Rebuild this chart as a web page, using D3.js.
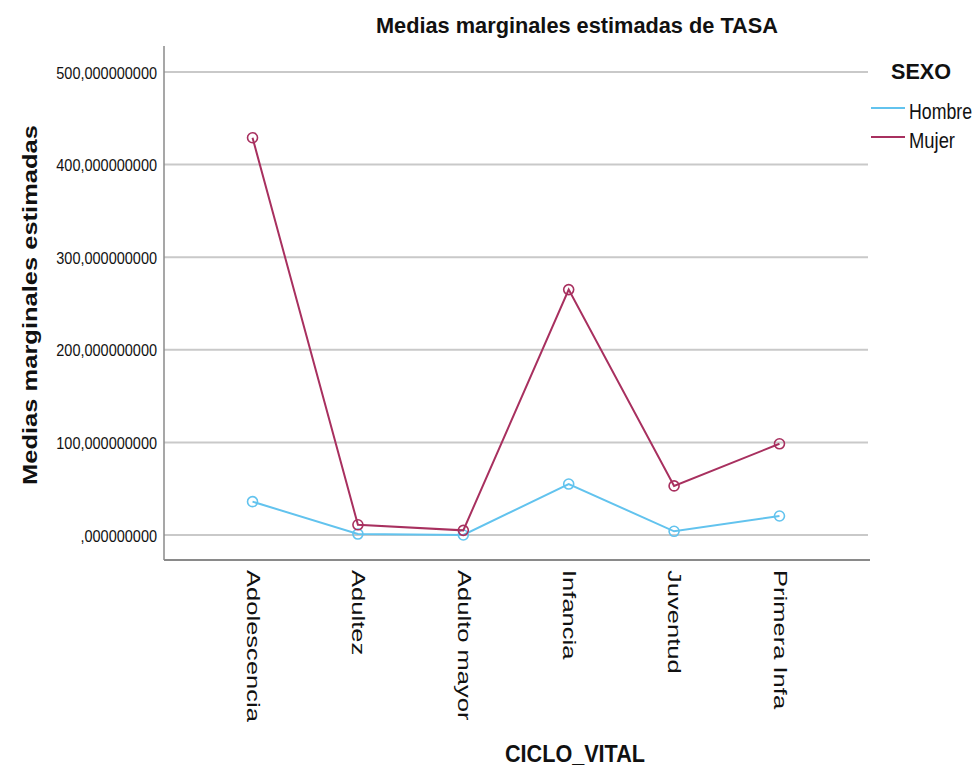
<!DOCTYPE html>
<html><head><meta charset="utf-8">
<script src="https://cdn.jsdelivr.net/npm/d3@7"></script>
<style>body{margin:0;background:#fff}svg{display:block}text{font-family:Arial,"Liberation Sans",sans-serif;fill:#111}</style>
</head><body>
<svg id="c" width="975" height="774"></svg>
<script>
const categories = ["Adolescencia","Adultez","Adulto mayor","Infancia","Juventud","Primera Infa"];
const hombre = [36, 1, 0, 55, 4, 20.5];
const mujer  = [429, 11, 5, 265, 53, 98.5];
const seriesNames = ["Hombre","Mujer"];
const seriesColors = ["#62c3ee","#a8305f"];
const yTicks = [0,100,200,300,400,500];
const yTickLabels = [",000000000","100,000000000","200,000000000","300,000000000","400,000000000","500,000000000"];
const title = "Medias marginales estimadas de TASA";
const yTitle = "Medias marginales estimadas";
const xTitle = "CICLO_VITAL";
const legendTitle = "SEXO";

const svg = d3.select("#c");
const L = 164, R = 868, T = 46, B = 560;
const x = d3.scalePoint().domain(categories).range([L, R]).padding(0.84);
const y = d3.scaleLinear().domain([0, 500]).range([535, 72]);

// gridlines
svg.append("g").selectAll("line").data(yTicks).join("line")
  .attr("x1", L).attr("x2", R).attr("y1", d => y(d)).attr("y2", d => y(d))
  .attr("stroke", "#c9c9c9").attr("stroke-width", 2);

// y axis
const yAxis = d3.axisLeft(y).tickValues(yTicks).tickSize(0).tickPadding(0)
  .tickFormat((d, i) => yTickLabels[i]);
const gy = svg.append("g").attr("transform", `translate(${L},0)`).call(yAxis);
gy.select(".domain").remove();
gy.selectAll(".tick text").attr("x", null).attr("dy", null)
  .attr("font-size", 14.5).attr("fill", "#222")
  .attr("font-family", "Arial, 'Liberation Sans', sans-serif")
  .attr("transform", "translate(-7,6) scale(1,1.15)");

// axis frame lines
svg.append("line").attr("x1", L).attr("x2", L).attr("y1", T).attr("y2", B)
  .attr("stroke", "#8a8a8a").attr("stroke-width", 1.5);
svg.append("line").attr("x1", L).attr("x2", R + 2).attr("y1", B).attr("y2", B)
  .attr("stroke", "#8a8a8a").attr("stroke-width", 2);

// x axis labels
const xAxis = d3.axisBottom(x).tickSize(0).tickPadding(0);
const gx = svg.append("g").attr("transform", `translate(0,${B})`).call(xAxis);
gx.select(".domain").remove();
gx.selectAll("text")
  .attr("font-size", 18).attr("fill", "#222").attr("text-anchor", "start")
  .attr("font-family", "Arial, 'Liberation Sans', sans-serif")
  .attr("dy", null).attr("y", 0)
  .attr("transform", "translate(0,10) rotate(90) scale(1.42,1)")
  .attr("dominant-baseline", "central");

// lines & markers
const data = [hombre, mujer];
const line = d3.line().x((d, i) => x(categories[i])).y(d => y(d));
data.forEach((vals, k) => {
  svg.append("path").attr("d", line(vals)).attr("fill", "none")
    .attr("stroke", seriesColors[k]).attr("stroke-width", 2);
  svg.append("g").selectAll("circle").data(vals).join("circle")
    .attr("cx", (d, i) => x(categories[i])).attr("cy", d => y(d)).attr("r", 5)
    .attr("fill", "none").attr("stroke", seriesColors[k]).attr("stroke-width", 1.6);
});

// titles
svg.append("text").attr("transform", "translate(376,33) scale(1,1.05)").attr("font-size", 21).attr("font-weight", "bold")
  .attr("textLength", 402).attr("lengthAdjust", "spacingAndGlyphs").text(title);
svg.append("text").attr("transform", "translate(37,485) rotate(-90)")
  .attr("font-size", 21).attr("font-weight", "bold")
  .attr("textLength", 360).attr("lengthAdjust", "spacingAndGlyphs").text(yTitle);
svg.append("text").attr("transform", "translate(505,762) scale(1,1.1)").attr("font-size", 21).attr("font-weight", "bold")
  .attr("textLength", 140).attr("lengthAdjust", "spacingAndGlyphs").text(xTitle);

// legend
svg.append("text").attr("transform", "translate(891,79) scale(1,1.05)").attr("font-size", 21).attr("font-weight", "bold")
  .attr("textLength", 60).attr("lengthAdjust", "spacingAndGlyphs").text(legendTitle);
const legLens = [63, 46];
const lg = svg.append("g").selectAll("g").data(seriesNames).join("g")
  .attr("transform", (d, i) => `translate(0,${108 + i * 29})`);
lg.append("line").attr("x1", 871).attr("x2", 905).attr("y1", 0).attr("y2", 0)
  .attr("stroke", (d, i) => seriesColors[i]).attr("stroke-width", 2);
lg.append("text").attr("transform", "translate(909,11) scale(1,1.35)").attr("font-size", 16).attr("fill", "#222")
  .attr("textLength", (d, i) => legLens[i]).attr("lengthAdjust", "spacingAndGlyphs").text(d => d);
</script>
</body></html>
